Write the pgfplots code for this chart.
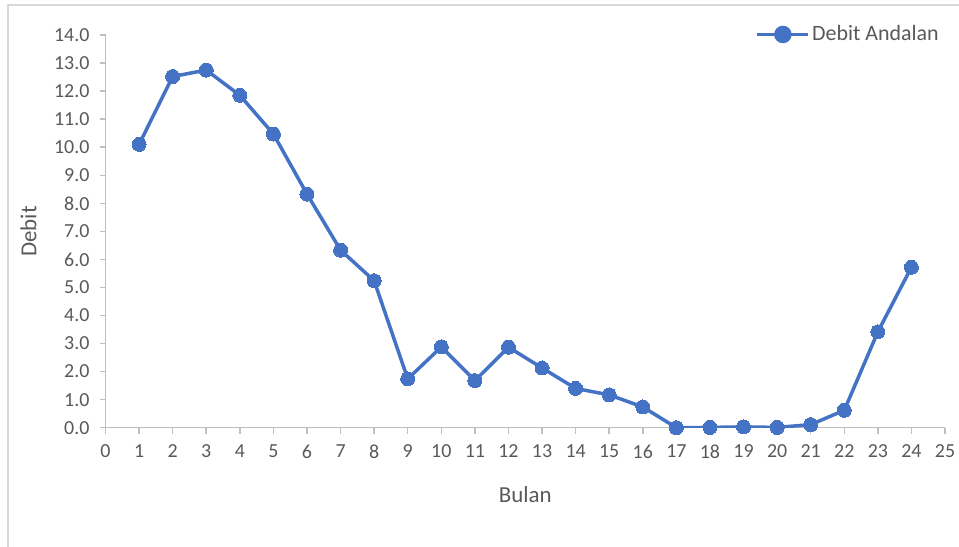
\documentclass[border=0pt]{standalone}
\usepackage{pgfplots}
\pgfplotsset{compat=1.18}
\usepackage{fontspec}
\setmainfont{Carlito}
\definecolor{serieblue}{HTML}{4472C4}
\definecolor{axisgray}{HTML}{BFBFBF}
\definecolor{textgray}{HTML}{595959}
\definecolor{framegray}{HTML}{D9D9D9}

\pgfplotstableread{
bulan debit
1 10.10
2 12.52
3 12.75
4 11.85
5 10.47
6 8.33
7 6.33
8 5.24
9 1.74
10 2.88
11 1.68
12 2.87
13 2.13
14 1.40
15 1.17
16 0.74
17 0.00
18 0.01
19 0.03
20 0.01
21 0.11
22 0.62
23 3.42
24 5.72
}\debitdata

\begin{document}
\begin{tikzpicture}[x=1bp,y=1bp]
\useasboundingbox (0,0) rectangle (479.5,273);
\begin{scope}
\clip (0,0) rectangle (479.5,273);
\draw[framegray, line width=0.75bp] (4,-20) rectangle (500,270.5);
\end{scope}
\begin{axis}[
  at={(52.75bp,59.15bp)}, anchor=south west,
  scale only axis, width=419.75bp, height=196.35bp,
  xmin=0, xmax=25, ymin=0, ymax=14,
  xtick={0,1,...,25}, ytick={0,1,...,14},
  axis x line*=bottom, axis y line*=left,
  axis line style={axisgray, line width=0.75bp, -},
  tick style={axisgray, line width=0.75bp},
  tick align=outside, major tick length=3bp,
  /pgf/number format/assume math mode=true,
  y tick label style={/pgf/number format/fixed,
    /pgf/number format/fixed zerofill, /pgf/number format/precision=1},
  ticklabel style={font=\fontsize{10}{12}\selectfont, text=textgray},
  xticklabel style={yshift=-2bp},
  yticklabel style={xshift=-1.5bp},
  xlabel={Bulan}, ylabel={Debit},
  label style={font=\fontsize{11.5}{13}\selectfont, text=textgray},
  xlabel style={yshift=-7bp},
  ylabel style={yshift=2bp},
  legend style={at={(1,1)}, anchor=north east, draw=none, fill=none,
    font=\fontsize{11}{13}\selectfont, text=textgray,
    nodes={inner xsep=1bp},
    xshift=1bp, yshift=9bp},
  legend cell align=left,
  legend image code/.code={
    \draw[serieblue, line width=1.75bp] (0,0) -- (25.5bp,0);
    \fill[serieblue] (12.75bp,0) circle (3.5bp);
  },
]
\addplot[serieblue, line width=1.75bp, mark=*, mark size=3.5bp,
  mark options={fill=serieblue, draw=serieblue, line width=0pt}]
  table[x=bulan, y=debit] {\debitdata};
\addlegendentry{Debit Andalan}
\end{axis}
\end{tikzpicture}
\end{document}
